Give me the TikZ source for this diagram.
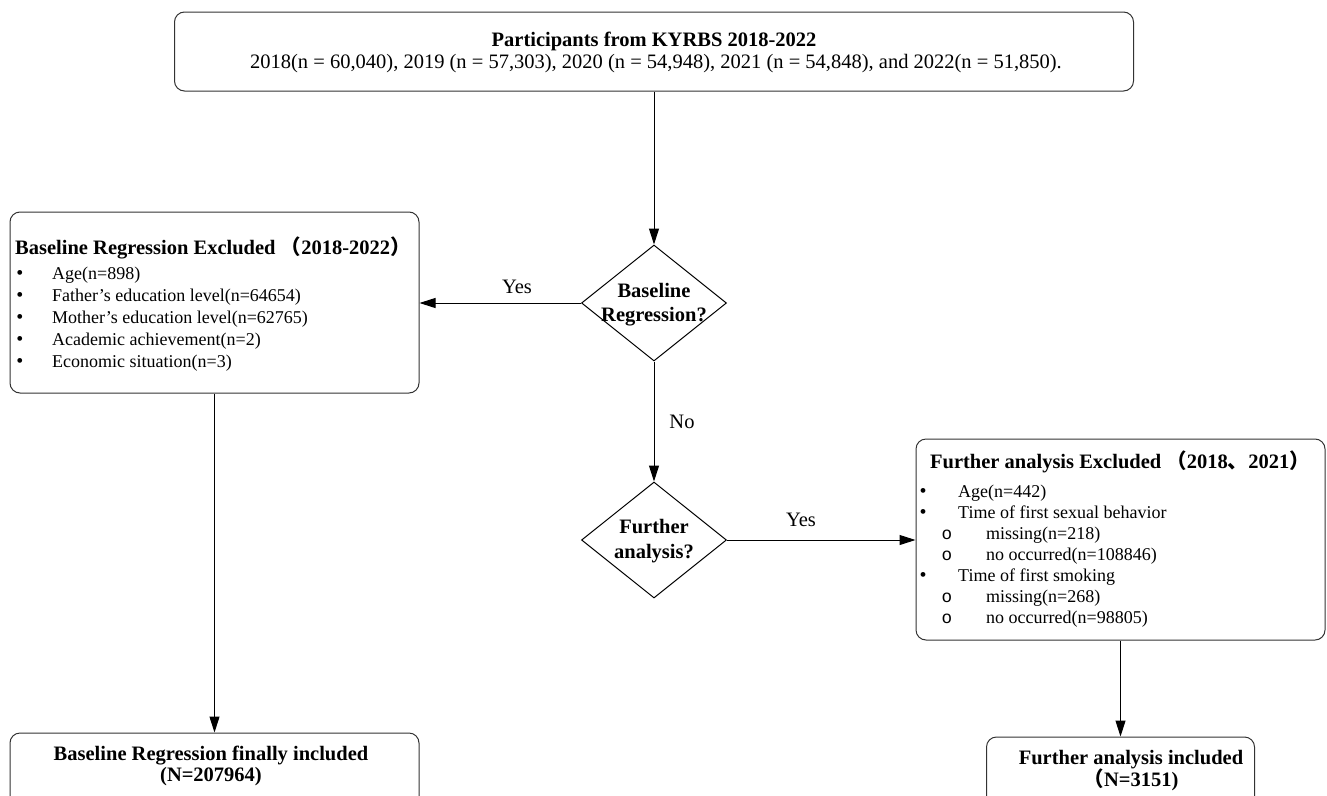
\documentclass[tikz,border=0pt]{standalone}
\usepackage{fontspec}
\setmainfont{Liberation Serif}
\newfontfamily\cjk{Noto Sans CJK SC}
\newfontfamily\monofnt{Liberation Mono}
\usetikzlibrary{arrows.meta,shapes.geometric}
\tikzset{
  boxnode/.style={draw=black!80, line width=1pt, rounded corners=10pt, inner sep=0pt},
  decision/.style={draw=black, line width=1pt, diamond, inner sep=0pt, aspect=1.25},
  txt/.style={inner sep=0pt, font=\fontsize{20.5}{21.5}\selectfont},
  ltxt/.style={inner sep=0pt, font=\fontsize{18}{21}\selectfont},
  bullet/.style={inner sep=0pt, font=\fontsize{20}{20}\selectfont},
  subbullet/.style={inner sep=0pt, font=\monofnt\fontsize{17.6}{21}\selectfont},
  btxt/.style={inner sep=0pt, font=\fontsize{20.5}{21.5}\selectfont\bfseries},
  flow/.style={draw=black, line width=1pt, -{Triangle[length=16pt,width=10pt]}},
}
\begin{document}
\begin{tikzpicture}[x=1pt,y=-1pt]
\useasboundingbox (0,0) rectangle (1327,795);
\clip (0,0) rectangle (1327,795);
\fill[white] (0,0) rectangle (1327,795);

% boxes
\node[boxnode, minimum width=959pt, minimum height=79pt] (top) at (654,51.5) {};
\node[boxnode, minimum width=409pt, minimum height=181pt] (left) at (214.5,302.5) {};
\node[boxnode, minimum width=409pt, minimum height=201pt] (right) at (1120.5,539.5) {};
\node[boxnode, minimum width=409pt, minimum height=82pt] (bl) at (214.5,774) {};
\node[boxnode, minimum width=268pt, minimum height=80pt] (br) at (1120.5,777) {};

% decisions
\node[decision, minimum width=145pt, minimum height=116pt] (d1) at (654,303) {};
\node[decision, minimum width=145pt, minimum height=116pt] (d2) at (654,540) {};

% top text
\node[btxt, anchor=base] (toptitle) at (654,46) {Participants from KYRBS 2018-2022};
\node[txt, anchor=base] (topline) at (656,68) {2018(n = 60,040), 2019 (n = 57,303), 2020 (n = 54,948), 2021 (n = 54,848), and 2022(n = 51,850).};

% left box text
\node[btxt, anchor=base west] (lefttitle) at (15,254) {Baseline Regression Excluded {\cjk （}2018-2022{\cjk ）}};
\foreach \t [count=\i] in {Age(n=898),Father’s education level(n=64654),Mother’s education level(n=62765),Academic achievement(n=2),Economic situation(n=3)}{
  \pgfmathsetmacro{\yy}{257+22*\i}
  \node[bullet, anchor=base] (lbul\i) at (20,\yy) {•};
  \node[ltxt, anchor=base west] (ltx\i) at (52,\yy) {\t};
}

% right box text
\node[btxt, anchor=base] (righttitle) at (1120,468) {Further analysis Excluded {\cjk （}2018{\cjk 、}2021{\cjk ）}};
\node[bullet, anchor=base] (rb1) at (923,497) {•};
\node[ltxt, anchor=base west] (rt1) at (958,497) {Age(n=442)};
\node[bullet, anchor=base] (rb2) at (923,518) {•};
\node[ltxt, anchor=base west] (rt2) at (958,518) {Time of first sexual behavior};
\node[subbullet, anchor=base] (rs1) at (947,539) {o};
\node[ltxt, anchor=base west] (rt3) at (986,539) {missing(n=218)};
\node[subbullet, anchor=base] (rs2) at (947,560) {o};
\node[ltxt, anchor=base west] (rt4) at (986,560) {no occurred(n=108846)};
\node[bullet, anchor=base] (rb3) at (923,581) {•};
\node[ltxt, anchor=base west] (rt5) at (958,581) {Time of first smoking};
\node[subbullet, anchor=base] (rs3) at (947,602) {o};
\node[ltxt, anchor=base west] (rt6) at (986,602) {missing(n=268)};
\node[subbullet, anchor=base] (rs4) at (947,623) {o};
\node[ltxt, anchor=base west] (rt7) at (986,623) {no occurred(n=98805)};

% diamond text
\node[btxt, anchor=base] (d1a) at (654,297) {Baseline};
\node[btxt, anchor=base] (d1b) at (654,321) {Regression?};
\node[btxt, anchor=base] (d2a) at (654,533) {Further};
\node[btxt, anchor=base] (d2b) at (654,558) {analysis?};

% bottom text
\node[btxt, anchor=base] (bla) at (211,760) {Baseline Regression finally included};
\node[btxt, anchor=base] (blb) at (211,781) {(N=207964)};
\node[btxt, anchor=base] (bra) at (1131,764) {Further analysis included};
\node[btxt, anchor=base] (brb) at (1131,786) {{\cjk （}N=3151)};

% connectors
\draw[flow] (top.south) -- (d1.north);
\draw[flow] (d1.west) -- (d1.west -| left.east);
\draw[flow] (d1.south) -- (d2.north);
\draw[flow] (d2.east) -- (d2.east -| right.west);
\draw[flow] (left.south) -- (bl.north);
\draw[flow] (right.south) -- (br.north);

% labels
\node[txt, anchor=base] (yes1) at (517,293) {Yes};
\node[txt, anchor=base] (no1) at (682,428) {No};
\node[txt, anchor=base] (yes2) at (801,526) {Yes};
\end{tikzpicture}
\end{document}
